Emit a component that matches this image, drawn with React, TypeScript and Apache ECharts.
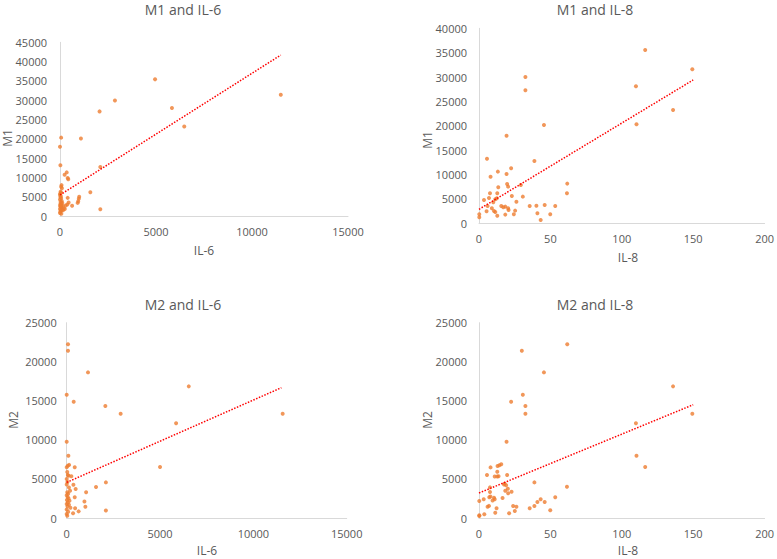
import React, { useEffect, useRef } from "react";
import * as echarts from "echarts";

// Panel 1: IL-6 (x) vs M1 (y)
const m1Il6: [number, number][] = [
  [4950, 35400], [11500, 31400], [2860, 29900], [2060, 27100], [5830, 28000], [6470, 23200],
  [1090, 20100], [60, 20300], [0, 17950], [20, 13150], [2100, 12700], [240, 10700], [350, 11300],
  [400, 9850], [430, 9500], [1580, 6150], [1000, 5000], [980, 4500], [950, 3800], [920, 3400],
  [400, 4700], [450, 3500], [380, 3000], [630, 2650], [300, 2700], [2100, 1750],
  [80, 8000], [60, 7600], [100, 7200], [30, 6300], [50, 6000], [10, 5800], [0, 5500], [40, 5200],
  [20, 4900], [60, 4600], [0, 4300], [90, 3900], [30, 3600], [120, 3400], [50, 3200], [10, 3000],
  [80, 2800], [150, 2600], [30, 2400], [60, 2200], [200, 2000], [0, 1800], [100, 1600], [40, 1400],
  [160, 1500], [20, 1100], [0, 800], [70, 600], [250, 1800], [10, 2600],
];
const trendM1Il6: [number, number][] = [[0, 5450], [11500, 41700]];

// Panel 2: IL-8 (x) vs M1 (y)
const m1Il8: [number, number][] = [
  [116.4, 35560], [149.4, 31590], [32.5, 30020], [32.5, 27280], [109.9, 28100], [135.9, 23250],
  [110.3, 20310], [45.5, 20170], [19.3, 17980], [5.6, 13260], [38.8, 12790], [8.1, 9570],
  [13.2, 10600], [19.3, 10120], [22.5, 11280], [61.8, 8140], [61.6, 6150], [30.7, 5470],
  [26.2, 4440], [40.2, 3620], [46, 3760], [53.4, 3560], [35.5, 3560], [40.9, 2050], [43.2, 680],
  [49.9, 1850], [25.3, 2600], [24.4, 1850], [18.4, 1780], [12.8, 1570], [5.3, 2460], [0.2, 1850],
  [0.2, 1230], [3.5, 4790], [7.7, 6150], [7, 5200], [13.5, 7380], [12.8, 6150], [19.7, 8070],
  [20.4, 7520], [23, 5600], [11.4, 4920], [12.5, 5130], [10, 4300], [9, 3080], [10.5, 2530],
  [11.4, 2320], [6, 3560], [15.6, 3560], [17, 3280], [18.4, 3420], [20.4, 3080], [20.7, 2730],
  [29.3, 7860],
];
const trendM1Il8: [number, number][] = [[0, 2870], [150, 29400]];

// Panel 3: IL-6 (x) vs M2 (y)
const m2Il6: [number, number][] = [
  [70, 22230], [70, 21420], [1140, 18640], [6540, 16850], [0, 15780], [375, 14890], [2070, 14330],
  [2890, 13350], [11570, 13350], [5860, 12120], [0, 9770], [90, 7980], [5000, 6530],
  [0, 6500], [60, 6700], [130, 6800], [430, 6500], [30, 5900], [60, 5500], [100, 5400], [250, 5350],
  [0, 5000], [40, 4600], [0, 4300], [360, 4250], [120, 3900], [480, 3700], [180, 3500], [30, 3300],
  [80, 3100], [0, 2900], [50, 2700], [430, 2650], [100, 2500], [10, 2300], [150, 2200], [950, 2100],
  [60, 2000], [0, 1800], [120, 1700], [40, 1500], [1000, 1450], [200, 1300], [450, 1250], [0, 1100],
  [640, 850], [2100, 950], [340, 600], [0, 500], [30, 300], [80, 800], [2100, 4560], [1570, 3970],
  [1040, 3290],
];
const trendM2Il6: [number, number][] = [[0, 4560], [11500, 16680]];

// Panel 4: IL-8 (x) vs M2 (y)
const m2Il8: [number, number][] = [
  [61.8, 22230], [30, 21420], [45.5, 18640], [135.9, 16850], [30.7, 15790], [22.5, 14890],
  [32.5, 14330], [32.5, 13350], [149.4, 13350], [109.9, 12120], [19.3, 9770], [110.3, 7980],
  [116.4, 6530], [8.1, 6480], [13, 6650], [14.3, 6750], [15.6, 6870], [5.6, 5500], [19.7, 5500],
  [11, 5300], [12.8, 5300], [13.7, 5350], [12.8, 5930], [38.8, 4560], [18, 4400], [19, 4200],
  [17.5, 4300], [7.7, 3920], [61.6, 4010], [20.2, 3750], [18.4, 3500], [22.8, 3370], [7.7, 3330],
  [20.4, 3160], [53.4, 2650], [7.2, 2650], [8, 2750], [10.5, 2600], [11, 2400], [9.5, 2250],
  [16.5, 2560], [3.3, 2390], [0.2, 2180], [43.2, 2390], [40.9, 2050], [46, 2050], [38.8, 1540],
  [35.5, 1240], [23.9, 1540], [26.2, 1450], [6, 1450], [7, 1550], [12.3, 1240], [49.9, 980],
  [25.1, 900], [11.4, 680], [21.1, 600], [3.7, 470], [0.2, 340], [0.2, 250],
];
const trendM2Il8: [number, number][] = [[0, 3200], [150, 14500]];

const titles = ["M1 and IL-6", "M1 and IL-8", "M2 and IL-6", "M2 and IL-8"];
const xNames = ["IL-6", "IL-8", "IL-6", "IL-8"];
const yNames = ["M1", "M1", "M2", "M2"];
const xMaxes = [15000, 200, 15000, 200];
const xIntervals = [5000, 50, 5000, 50];
const yMaxes = [45000, 40000, 25000, 25000];
const yInterval = 5000;

export default function App() {
  const ref = useRef<HTMLDivElement>(null);
  useEffect(() => {
    const chart = echarts.init(ref.current!, null, { renderer: "svg" });
    const font = '"Open Sans", "Segoe UI", sans-serif';
    const labelColor = "#595959";
    const axisColor = "#D9D9D9";
    const points = [m1Il6, m1Il8, m2Il6, m2Il8];
    const trends = [trendM1Il6, trendM1Il8, trendM2Il6, trendM2Il8];
    const grids = [
      { left: 60, top: 42.3, width: 288, height: 173.7 },
      { left: 479, top: 28.3, width: 287, height: 195 },
      { left: 66.7, top: 322.7, width: 280, height: 195.3 },
      { left: 479, top: 322.7, width: 287, height: 195.3 },
    ];
    const titlePos = [
      [183, 9], [595, 9], [183, 304], [595, 304],
    ];
    const xNamePos = [
      [204, 250], [628, 257], [207, 550], [628, 550],
    ];
    const yNamePos = [
      [7, 138], [427, 140], [13, 420], [427, 420],
    ];
    const labelMarginsY = [13, 12, 10, 12];

    const graphic: any[] = [];
    for (let i = 0; i < 4; i++) {
      graphic.push({
        type: "text", x: titlePos[i][0], y: titlePos[i][1],
        style: { text: titles[i], fill: labelColor, fontSize: 14, fontFamily: font, align: "center", verticalAlign: "middle", textAlign: "center", textVerticalAlign: "middle" },
      });
      graphic.push({
        type: "text", x: xNamePos[i][0], y: xNamePos[i][1],
        style: { text: xNames[i], fill: labelColor, fontSize: 12, fontFamily: font, align: "center", verticalAlign: "middle", textAlign: "center", textVerticalAlign: "middle" },
      });
      graphic.push({
        type: "text", x: yNamePos[i][0], y: yNamePos[i][1], rotation: Math.PI / 2,
        style: { text: yNames[i], fill: labelColor, fontSize: 12, fontFamily: font, align: "center", verticalAlign: "middle", textAlign: "center", textVerticalAlign: "middle" },
      });
    }

    chart.setOption({
      animation: false,
      backgroundColor: "#ffffff",
      grid: grids.map((g) => ({ ...g, containLabel: false })),
      xAxis: grids.map((_, i) => ({
        type: "value", gridIndex: i, min: 0, max: xMaxes[i], interval: xIntervals[i],
        axisLine: { show: true, onZero: false, lineStyle: { color: axisColor, width: 1 } },
        axisTick: { show: false },
        splitLine: { show: false },
        axisLabel: { color: labelColor, fontSize: 11, fontFamily: font, margin: 10, formatter: (v: number) => String(v) },
      })),
      yAxis: grids.map((_, i) => ({
        type: "value", gridIndex: i, min: 0, max: yMaxes[i], interval: yInterval,
        axisLine: { show: true, onZero: false, lineStyle: { color: axisColor, width: 1 } },
        axisTick: { show: false },
        splitLine: { show: false },
        axisLabel: { color: labelColor, fontSize: 11, fontFamily: font, margin: labelMarginsY[i], formatter: (v: number) => String(v) },
      })),
      graphic,
      series: [
        ...points.map((d, i) => ({
          type: "scatter", xAxisIndex: i, yAxisIndex: i, data: d, symbolSize: 4,
          itemStyle: { color: "#ED7D31" },
        })),
        ...trends.map((d, i) => ({
          type: "line", xAxisIndex: i, yAxisIndex: i, data: d, showSymbol: false, symbol: "none",
          lineStyle: { color: "#FF0000", width: 1.5, type: [1.5, 1.5] },
          z: 3,
        })),
      ],
    });
    return () => chart.dispose();
  }, []);
  return <div ref={ref} style={{ position: "absolute", left: 0, top: 0, width: 777, height: 559 }} />;
}
